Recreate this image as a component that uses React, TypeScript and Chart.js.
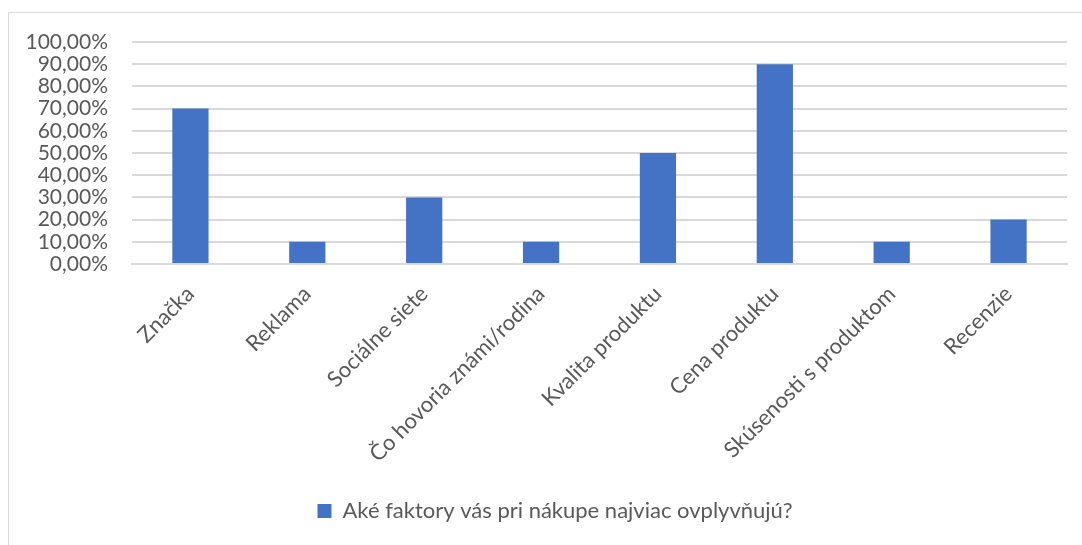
import React, { useEffect, useRef } from "react";
import { Chart, registerables } from "chart.js";

Chart.register(...registerables);

const categories = [
  "Značka",
  "Reklama",
  "Sociálne siete",
  "Čo hovoria známi/rodina",
  "Kvalita produktu",
  "Cena produktu",
  "Skúsenosti s produktom",
  "Recenzie",
];
const shares = [70, 10, 30, 10, 50, 90, 10, 20];
const seriesName = "Aké faktory vás pri nákupe najviac ovplyvňujú?";

const FONT = "Lato, 'Open Sans', sans-serif";
const TEXT = "#595959";
const BAR = "#4472C4";
const GRID = "#d9d9d9";

// Nudges the bottom legend so it sits centred under the plot area.
const legendShift = {
  id: "legendShift",
  afterLayout(chart: any) {
    const lg = chart.legend;
    if (!lg) return;
    lg.left += 17;
    lg.right += 17;
  },
};

export default function App() {
  const canvasRef = useRef<HTMLCanvasElement | null>(null);

  useEffect(() => {
    if (!canvasRef.current) return;
    const chart = new Chart(canvasRef.current, {
      type: "bar",
      data: {
        labels: categories,
        datasets: [
          {
            label: seriesName,
            data: shares,
            backgroundColor: BAR,
            borderWidth: 0,
            barPercentage: 0.31,
            categoryPercentage: 1,
          },
        ],
      },
      plugins: [legendShift],
      options: {
        animation: false,
        responsive: true,
        maintainAspectRatio: false,
        layout: { padding: { top: 29, right: 16, bottom: 14, left: 0 } },
        plugins: {
          tooltip: { enabled: false },
          legend: {
            position: "bottom",
            labels: {
              color: TEXT,
              font: { family: FONT, size: 22 },
              boxWidth: 14,
              boxHeight: 14,
              padding: 8,
            },
          },
        },
        scales: {
          x: {
            grid: { display: false, drawTicks: false },
            border: { display: true, color: GRID, width: 2 },
            ticks: {
              color: TEXT,
              font: { family: FONT, size: 22 },
              minRotation: 45,
              maxRotation: 45,
              autoSkip: false,
              padding: 17,
            },
            afterFit: (scale: any) => {
              scale.height = 228;
            },
          },
          y: {
            min: 0,
            max: 100,
            grid: {
              color: GRID,
              lineWidth: 2,
              drawTicks: true,
              tickLength: 24,
              tickColor: "rgba(0,0,0,0)",
            },
            border: { display: false },
            ticks: {
              stepSize: 10,
              autoSkip: false,
              color: TEXT,
              font: { family: FONT, size: 21 },
              padding: 0,
              callback: (v: any) => Number(v).toFixed(2).replace(".", ",") + "%",
            },
            afterFit: (scale: any) => {
              scale.width = 123;
            },
          },
        },
      },
    });
    return () => chart.destroy();
  }, []);

  return (
    <div
      style={{
        position: "fixed",
        left: 8,
        top: 12,
        width: 1074,
        height: 533,
        borderLeft: "1px solid #d9d9d9",
        borderTop: "1px solid #d9d9d9",
        background: "#fff",
      }}
    >
      <canvas ref={canvasRef} />
    </div>
  );
}
